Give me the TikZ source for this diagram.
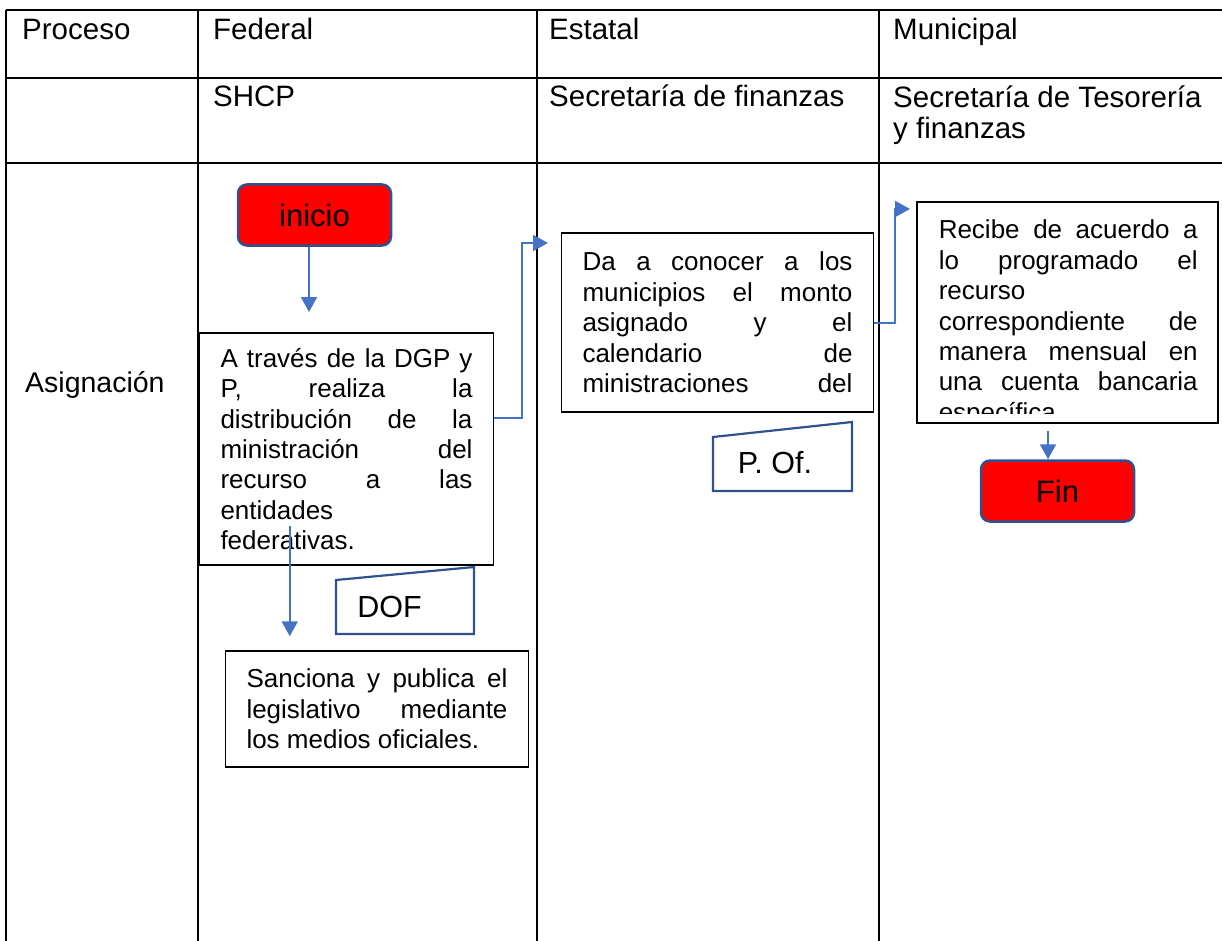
\documentclass[tikz,border=0pt]{standalone}
\usepackage{fontspec}
\setmainfont{Liberation Sans}
\usetikzlibrary{arrows.meta,calc}
\definecolor{flowblue}{HTML}{4472C4}
\definecolor{edgeblue}{HTML}{2F528F}
\tolerance=10000
\hbadness=10000
\hyphenpenalty=10000

\begin{document}
\begin{tikzpicture}[x=1pt, y=-1pt,
  head/.style={anchor=base west, inner sep=0pt, align=left, font=\fontsize{29.5}{31}\selectfont},
  box/.style={draw, line width=1.5pt, inner xsep=21pt, inner ysep=0pt, align=justify, font=\fontsize{26}{30.4}\selectfont},
  term/.style={draw=edgeblue, fill=red, line width=2.5pt, rounded corners=9pt, minimum width=153pt, minimum height=61pt, font=\fontsize{31}{31}\selectfont},
  doc/.style={draw=edgeblue, line width=2.2pt},
  doclabel/.style={anchor=base, inner sep=0pt, font=\fontsize{30.5}{31}\selectfont},
  flow/.style={draw=flowblue, line width=2pt, -{Triangle[width=16pt,length=15pt]}}]
  \useasboundingbox (0,0) rectangle (1222,941);

  % table
  \draw[line width=2.4pt] (6,10) -- (1222,10) (6,78) -- (1222,78) (6,163) -- (1222,163);
  \foreach \x in {6,198,537,879}
    \draw[line width=2.4pt] (\x,10) -- (\x,941);

  \node[head] (proceso) at (22,40) {Proceso};
  \node[head] (federal) at (213,40) {Federal};
  \node[head] (estatal) at (549,40) {Estatal};
  \node[head] (municipal) at (893,40) {Municipal};
  \node[head] (shcp) at (213,107) {SHCP};
  \node[head] (sfin) at (549,107) {Secretaría de finanzas};
  \node[head] (stes) at (893,139) {Secretaría de Tesorería\\y finanzas};
  \node[head, font=\fontsize{28.5}{31}\selectfont] (asig) at (25,392) {Asignación};

  % federal
  \node[term] (inicio) at (314.5,215) {inicio};
  \node[box, text width=252pt, minimum height=232pt] (distrib) at (346.5,449)
    {A través de la DGP y\linebreak P, realiza la\linebreak distribución de la\linebreak
     ministración del\linebreak recurso a las\linebreak entidades\\ federativas.};
  \draw[doc] (336,580) -- (474,567) -- (474,634) -- (336,634) -- cycle;
  \node[doclabel] (dof) at (389.5,617) {DOF};
  \node[box, text width=261pt, minimum height=116pt] (sanciona) at (377,709)
    {Sanciona y publica el\linebreak legislativo mediante\linebreak los medios oficiales.};

  % estatal
  \node[box, text width=270pt, minimum height=179pt] (conocer) at (717.5,322.5)
    {\parfillskip=0pt Da a conocer a los\linebreak municipios el monto\linebreak
     asignado y el\linebreak calendario de\linebreak ministraciones del\par};
  \draw[doc] (713,437) -- (852,422) -- (852,491) -- (713,491) -- cycle;
  \node[doclabel] (pof) at (775,473) {P. Of.};

  % municipal
  \node[box, text width=259pt, minimum height=221pt] (recibe) at (1067.5,312.5) {};
  \begin{scope}
    \clip (917,202) rectangle (1218,413);
    \node[box, draw=none, inner xsep=0pt, text width=259pt, anchor=north west] (recibetxt) at (938,219.4)
      {Recibe de acuerdo a\linebreak lo programado el\linebreak recurso\\
       correspondiente de\linebreak manera mensual en\linebreak una cuenta bancaria\linebreak específica};
  \end{scope}
  \node[term] (fin) at (1057.5,491) {Fin};

  % connectors
  \coordinate (e1) at (309,312);
  \draw[flow] (inicio.south -| e1) -- (e1);
  \coordinate (e2) at (548,243);
  \draw[flow] ($(distrib.east)+(0,-31)$) -| ($(e2)+(-26,0)$) -- (e2);
  \coordinate (s4) at ($(distrib.south west)+(91,-40)$);
  \draw[flow] (s4) -- ($(s4 |- sanciona.north)+(0,-14)$);
  \coordinate (e3) at (910,209);
  \draw[flow] (conocer.east) -| ($(e3)+(-15,0)$) -- (e3);
  \draw[flow] ($(recibe.south)+(-19.5,7)$) -- ($(fin.north)+(-9.5,0)$);
\end{tikzpicture}
\end{document}
